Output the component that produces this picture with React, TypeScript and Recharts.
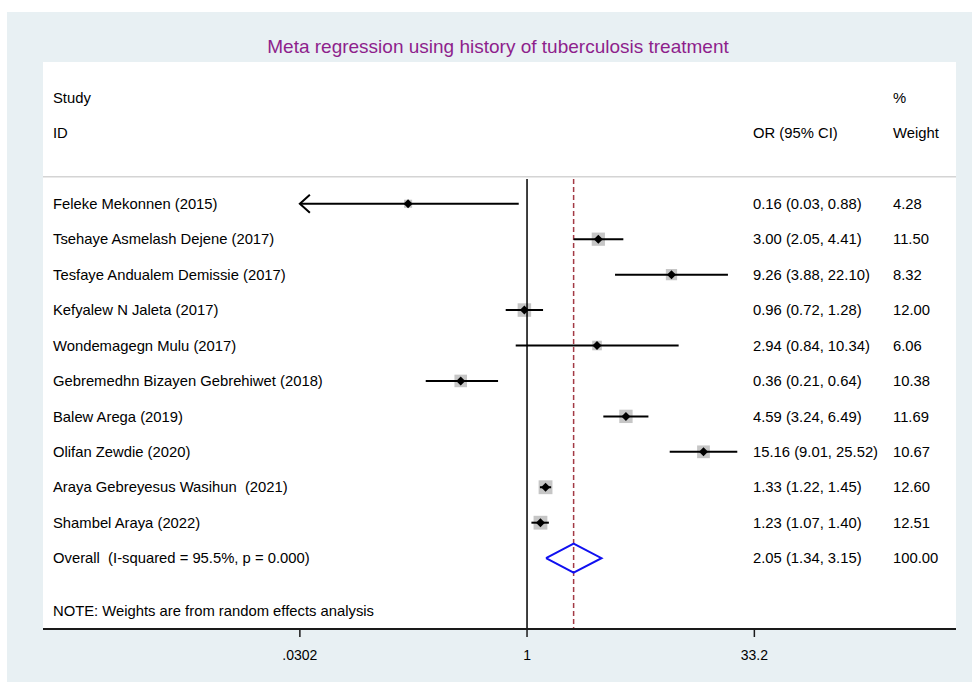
import React from 'react'
import {
    ComposedChart,
    XAxis,
    YAxis,
    Line,
    Scatter,
    ErrorBar,
    ReferenceLine,
    CartesianGrid
} from 'recharts'

// Study level estimates (odds ratios with 95% CI) and random-effects weights
const studyNames = [
    'Feleke Mekonnen (2015)',
    'Tsehaye Asmelash Dejene (2017)',
    'Tesfaye Andualem Demissie (2017)',
    'Kefyalew N Jaleta (2017)',
    'Wondemagegn Mulu (2017)',
    'Gebremedhn Bizayen Gebrehiwet (2018)',
    'Balew Arega (2019)',
    'Olifan Zewdie (2020)',
    'Araya Gebreyesus Wasihun  (2021)',
    'Shambel Araya (2022)'
]
const oddsRatios = [0.16, 3.0, 9.26, 0.96, 2.94, 0.36, 4.59, 15.16, 1.33, 1.23]
const ciLower = [0.03, 2.05, 3.88, 0.72, 0.84, 0.21, 3.24, 9.01, 1.22, 1.07]
const ciUpper = [0.88, 4.41, 22.1, 1.28, 10.34, 0.64, 6.49, 25.52, 1.45, 1.4]
const weights = [4.28, 11.5, 8.32, 12.0, 6.06, 10.38, 11.69, 10.67, 12.6, 12.51]

// Pooled estimate
const overallLabel = 'Overall  (I-squared = 95.5%, p = 0.000)'
const overallOR = 2.05
const overallLower = 1.34
const overallUpper = 3.15
const overallWeight = 100

const xTicks = [0.0302, 1, 33.2]
const title = 'Meta regression using history of tuberculosis treatment'
const note = 'NOTE: Weights are from random effects analysis'

// row positions on the (reversed) y axis
const FIRST_ROW = 4
const OVERALL_ROW = 14
const NOTE_ROW = 15.5
const HEADER_ROW_1 = 1
const HEADER_ROW_2 = 2

const FONT = '"Liberation Sans", Arial, Helvetica, sans-serif'
const AXIS_MIN = xTicks[0]
const fmt = (v: number) => v.toFixed(2)

// CIs below the left tick are cut there and get an arrow
const studies = studyNames.map((name, i) => ({
    name,
    x: oddsRatios[i],
    y: FIRST_ROW + i,
    lo: ciLower[i],
    hi: ciUpper[i],
    w: weights[i],
    err: [oddsRatios[i] - Math.max(ciLower[i], AXIS_MIN), ciUpper[i] - oddsRatios[i]]
}))

// text shown in the three columns, one entry per row
const rows: { y: number; left?: string; mid?: string; right?: string }[] = [
    { y: HEADER_ROW_1, left: 'Study', right: '%' },
    { y: HEADER_ROW_2, left: 'ID', mid: 'OR (95% CI)', right: 'Weight' },
    ...studies.map((s) => ({
        y: s.y,
        left: s.name,
        mid: `${fmt(s.x)} (${fmt(s.lo)}, ${fmt(s.hi)})`,
        right: fmt(s.w)
    })),
    {
        y: OVERALL_ROW,
        left: overallLabel,
        mid: `${fmt(overallOR)} (${fmt(overallLower)}, ${fmt(overallUpper)})`,
        right: fmt(overallWeight)
    },
    { y: NOTE_ROW, left: note }
]
// anchor the labels at OR = 1 so they go through the y scale
const rowData = rows.map((r) => ({ ...r, x: 1 }))

const RowLabel = ({ cy, payload }: any) => {
    const common = {
        y: cy,
        dy: '0.35em',
        fontSize: 14.8,
        fontFamily: FONT,
        fill: '#000',
        style: { whiteSpace: 'pre' as const }
    }
    return (
        <g>
            {payload.left && <text x={53} {...common}>{payload.left}</text>}
            {payload.mid && <text x={753} {...common}>{payload.mid}</text>}
            {payload.right && <text x={893} {...common}>{payload.right}</text>}
        </g>
    )
}

// grey box (area ~ weight)
const WeightBox = ({ cx, cy, payload }: any) => {
    const side = 3.9 * Math.sqrt(payload.w)
    return <rect x={cx - side / 2} y={cy - side / 2} width={side} height={side} fill="#c6c6c6" />
}

const PointMark = ({ cx, cy }: any) => (
    <path d={`M${cx - 4.5},${cy} L${cx},${cy - 4.5} L${cx + 4.5},${cy} L${cx},${cy + 4.5} Z`} fill="#000" />
)

const LeftArrow = ({ cx, cy }: any) => (
    <path
        d={`M${cx + 10},${cy - 9} L${cx},${cy} L${cx + 10},${cy + 9}`}
        fill="none"
        stroke="#000"
        strokeWidth={2}
    />
)

const clipped = studies.filter((s) => s.lo < AXIS_MIN).map((s) => ({ x: AXIS_MIN, y: s.y }))

const diamond = [
    { x: overallLower, y: OVERALL_ROW },
    { x: overallOR, y: OVERALL_ROW - 0.41 },
    { x: overallUpper, y: OVERALL_ROW },
    { x: overallOR, y: OVERALL_ROW + 0.41 },
    { x: overallLower, y: OVERALL_ROW }
]

export default function App() {
    return (
        <div style={{ position: 'absolute', left: 0, top: 0, width: 972, height: 682, background: '#fff' }}>
            <div
                style={{
                    position: 'absolute',
                    left: 7,
                    top: 12,
                    width: 965,
                    height: 670,
                    background: '#e8f0f3'
                }}
            />
            <div
                style={{
                    position: 'absolute',
                    left: 0,
                    top: 35,
                    width: 996,
                    textAlign: 'center',
                    color: '#8e1f8c',
                    fontFamily: FONT,
                    fontSize: 19,
                    lineHeight: '24px'
                }}
            >
                {title}
            </div>
            <div style={{ position: 'absolute', left: 0, top: 0 }}>
                <ComposedChart
                    width={972}
                    height={682}
                    margin={{ top: 62, right: 16, bottom: 13, left: 43 }}
                >
                    <CartesianGrid horizontal={false} vertical={false} fill="#fff" />
                    <XAxis
                        dataKey="x"
                        type="number"
                        scale="log"
                        domain={[0.000577, 742]}
                        allowDataOverflow
                        ticks={xTicks}
                        interval={0}
                        height={40}
                        tickSize={8}
                        tickMargin={13}
                        axisLine={{ stroke: '#1a1a1a', strokeWidth: 2 }}
                        tickLine={{ stroke: '#1a1a1a', strokeWidth: 1.5 }}
                        tick={{ fill: '#000', fontSize: 14, fontFamily: FONT }}
                        tickFormatter={(v: number) => String(v).replace(/^0\./, '.')}
                    />
                    <YAxis dataKey="y" type="number" domain={[0, 16]} reversed hide />
                    <ReferenceLine y={3.24} stroke="#d4d4d4" strokeWidth={1.5} />
                    <ReferenceLine
                        segment={[{ x: 1, y: 3.3 }, { x: 1, y: 16 }]}
                        stroke="#000"
                        strokeWidth={1.5}
                    />
                    <ReferenceLine
                        segment={[{ x: overallOR, y: 3.3 }, { x: overallOR, y: 16 }]}
                        stroke="#a33a45"
                        strokeWidth={1.5}
                        strokeDasharray="5 3"
                    />
                    <Scatter data={rowData} shape={(p: any) => <RowLabel {...p} />} isAnimationActive={false} />
                    {/* boxes sit under the CI lines */}
                    <Scatter
                        data={studies}
                        shape={(p: any) => <WeightBox {...p} />}
                        isAnimationActive={false}
                        {...({ zIndex: 300 } as any)}
                    />
                    <Scatter data={studies} shape={(p: any) => <PointMark {...p} />} isAnimationActive={false}>
                        <ErrorBar dataKey="err" direction="x" width={0} stroke="#000" strokeWidth={2} />
                    </Scatter>
                    <Scatter data={clipped} shape={(p: any) => <LeftArrow {...p} />} isAnimationActive={false} />
                    <Line
                        data={diamond}
                        dataKey="y"
                        stroke="#1010f0"
                        strokeWidth={2}
                        dot={false}
                        activeDot={false}
                        isAnimationActive={false}
                    />
                </ComposedChart>
            </div>
        </div>
    )
}
